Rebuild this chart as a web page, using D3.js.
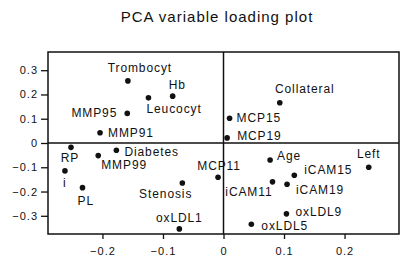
<!DOCTYPE html>
<html><head><meta charset="utf-8">
<script src="https://cdn.jsdelivr.net/npm/d3@7"></script>
<style>
body{margin:0;background:#fff;}
text{font-family:"Liberation Sans",Arial,Helvetica,sans-serif;fill:#111;}
</style></head>
<body>
<svg id="c" width="404" height="261"></svg>
<script>
// ---- data ----
const variables = ["Trombocyt","Hb","Leucocyt","MMP95","MMP91","Diabetes","RP","MMP99","i","PL","Stenosis","oxLDL1",
  "Collateral","MCP15","MCP19","MCP11","Age","Left","iCAM15","iCAM11","iCAM19","oxLDL9","oxLDL5"];
const pc1 = [-0.158,-0.084,-0.124,-0.159,-0.204,-0.177,-0.252,-0.207,-0.262,-0.233,-0.068,-0.073,
  0.093,0.010,0.006,-0.009,0.077,0.240,0.117,0.081,0.105,0.104,0.046];
const pc2 = [0.256,0.193,0.186,0.122,0.042,-0.030,-0.018,-0.052,-0.115,-0.184,-0.165,-0.354,
  0.166,0.102,0.021,-0.141,-0.070,-0.100,-0.133,-0.160,-0.170,-0.292,-0.335];
const xTicks = [-0.2,-0.1,0,0.1,0.2];
const yTicks = [-0.3,-0.2,-0.1,0,0.1,0.2,0.3];
const title = "PCA variable loading plot";

// ---- label layout (anchor, dx, dy in px) ----
const labelLayout = [
  ["middle",12,-9],["start",-4,-7],["start",-2,15],["end",-10,4],["start",8,4],["start",8,6],
  ["middle",-1,15],["start",3,13],["start",-2,16],["start",-5,17],["end",10,15],["middle",0,-7],
  ["middle",25,-10],["start",7,4],["start",10,2],["middle",1,-7],["start",7,0],["middle",0,-9],
  ["start",10,-1],["end",0,14],["start",9,10],["start",9,2],["start",10,6]
];

const svg = d3.select("#c");
const L=48,R=399,T=52,B=234;
const x = d3.scaleLinear().domain([-0.29,0.29]).range([L,R]);
const y = d3.scaleLinear().domain([-0.375,0.375]).range([B,T]);
const fmt = d => d===0 ? "0" : (d<0?"\u2212":"") + Math.abs(d).toFixed(1);

svg.append("text").attr("x",217).attr("y",22).attr("text-anchor","middle")
  .style("font-size","15px").style("letter-spacing","1px").text(title);

// axes
const gx = svg.append("g").attr("transform",`translate(0,${B})`)
  .call(d3.axisBottom(x).tickValues(xTicks).tickSize(5).tickPadding(8).tickFormat(fmt));
const gy = svg.append("g").attr("transform",`translate(${L},0)`)
  .call(d3.axisLeft(y).tickValues(yTicks).tickSize(7).tickPadding(3).tickFormat(fmt));
[gx,gy].forEach(g=>{
  g.select(".domain").remove();
  g.selectAll(".tick line").attr("stroke","#111").attr("stroke-width",1.3);
  g.selectAll(".tick text").style("font-size","11px").style("letter-spacing","1px")
    .style("font-family","'Liberation Sans',Arial,sans-serif").attr("fill","#111");
});

// frame and zero lines
svg.append("rect").attr("x",L).attr("y",T).attr("width",R-L).attr("height",B-T)
  .attr("fill","none").attr("stroke","#111").attr("stroke-width",1.5);
svg.append("line").attr("x1",x(0)).attr("x2",x(0)).attr("y1",T).attr("y2",B)
  .attr("stroke","#111").attr("stroke-width",1.5);
svg.append("line").attr("x1",L).attr("x2",R).attr("y1",y(0)).attr("y2",y(0))
  .attr("stroke","#111").attr("stroke-width",1.5);

// points
const data = variables.map((v,i)=>({name:v,px:pc1[i],py:pc2[i],lay:labelLayout[i]}));
svg.selectAll("circle.pt").data(data).join("circle").attr("class","pt")
  .attr("cx",d=>x(d.px)).attr("cy",d=>y(d.py)).attr("r",2.8).attr("fill","#111");
svg.selectAll("text.lbl").data(data).join("text").attr("class","lbl")
  .attr("x",d=>x(d.px)+d.lay[1]).attr("y",d=>y(d.py)+d.lay[2])
  .attr("text-anchor",d=>d.lay[0])
  .style("font-size","12px").style("letter-spacing","0.9px").text(d=>d.name);
</script>
</body></html>
